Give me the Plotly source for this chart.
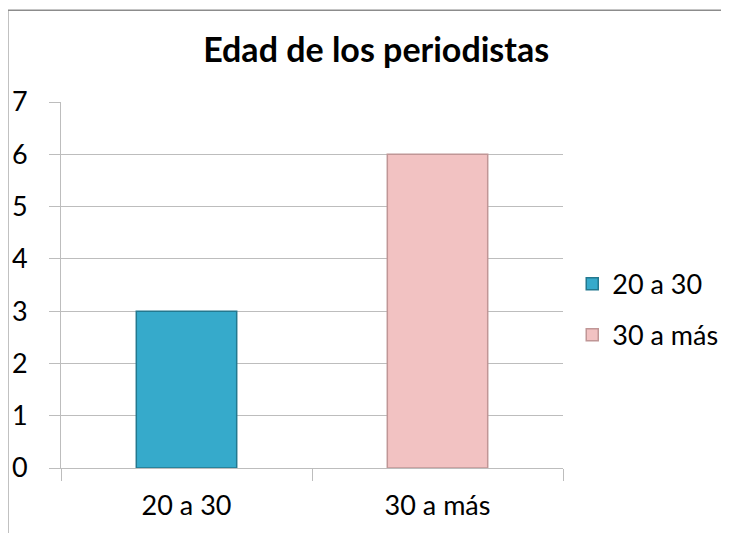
import plotly.graph_objects as go

# Datos del gráfico
categorias = ["20 a 30", "30 a más"]
valores = [3, 6]
colores = ["#36AACB", "#F2C2C2"]
bordes = ["#23788F", "#C09696"]

fig = go.Figure()
for cat, val, col, bor in zip(categorias, valores, colores, bordes):
    fig.add_trace(go.Bar(
        x=[cat], y=[val], name=cat, legendgroup=cat,
        marker=dict(color=col, line=dict(color=bor, width=1.5)),
        width=0.4,
    ))

fig.update_layout(
    width=729, height=533,
    margin=dict(l=53, r=174, t=94, b=73, autoexpand=False),
    paper_bgcolor="white", plot_bgcolor="white",
    font=dict(family="Lato, Open Sans, sans-serif", color="black", size=27),
    title=dict(text="<b>Edad de los periodistas</b>", x=0.505, xref="container",
               y=0.921, yref="container", xanchor="center", yanchor="middle",
               font=dict(size=34, color="black")),
    barmode="overlay",
    showlegend=True,
    legend=dict(x=0.774, xref="container", y=0.434, yref="container",
                xanchor="left", yanchor="middle",
                font=dict(size=27), tracegroupgap=13, bgcolor="rgba(0,0,0,0)"),
    shapes=[
        dict(type="line", xref="paper", yref="paper", x0=-0.106, x1=-0.106,
             y0=-0.3, y1=1.251, line=dict(color="#8C8C8C", width=1.5)),
        dict(type="line", xref="paper", yref="paper", x0=-0.106, x1=1.5,
             y0=1.251, y1=1.251, line=dict(color="#8C8C8C", width=1.5)),
    ],
)

fig.update_yaxes(range=[0, 7], dtick=1, showgrid=True, gridcolor="#BDBDBD",
                 gridwidth=1, showline=True, linecolor="#BDBDBD",
                 ticks="outside", ticklen=11, tickcolor="#BDBDBD",
                 ticklabelstandoff=16, zeroline=False, automargin=False)
fig.update_xaxes(showline=True, linecolor="#BDBDBD", ticks="outside",
                 tickson="boundaries", ticklen=12, tickcolor="#BDBDBD",
                 ticklabelstandoff=14, showgrid=False, automargin=False)

fig.write_html("out.html")
